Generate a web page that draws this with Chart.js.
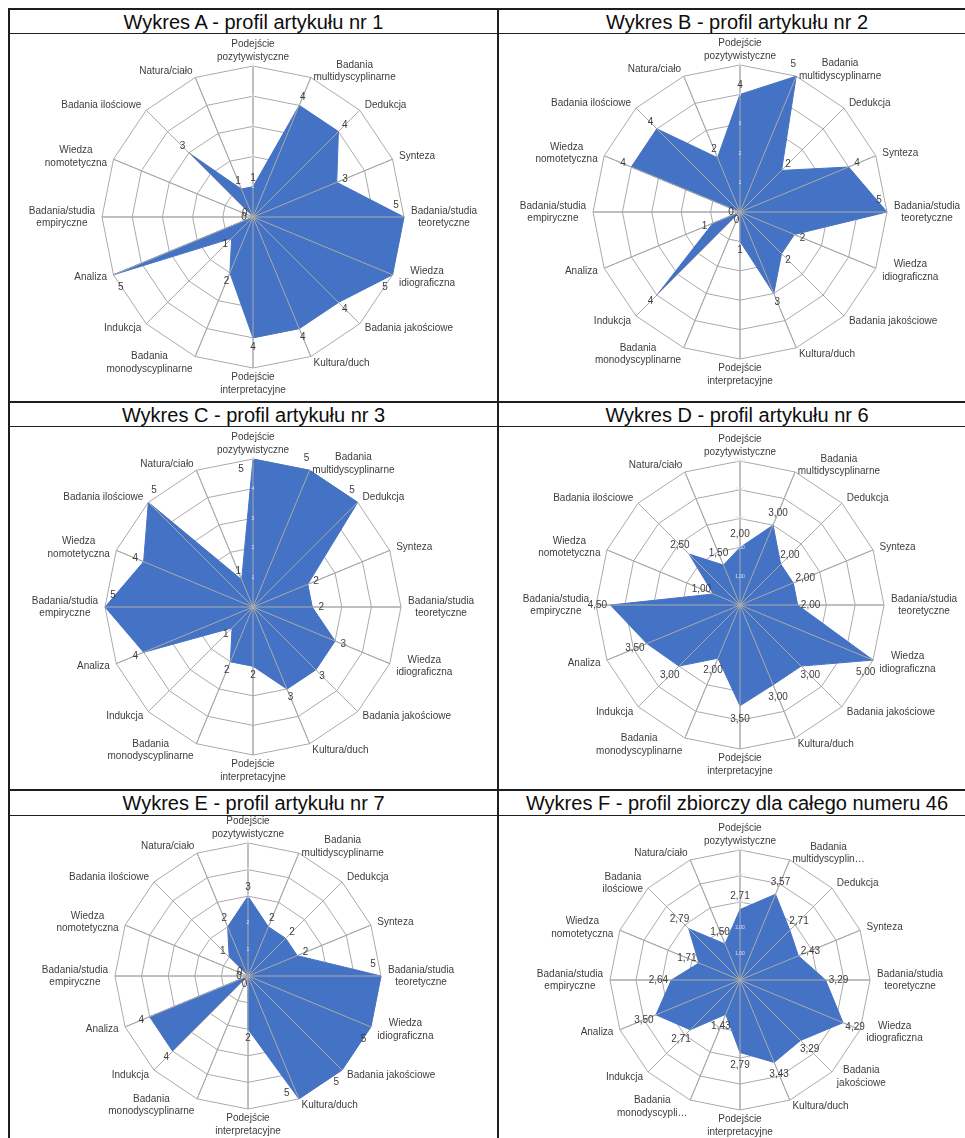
<!DOCTYPE html>
<html>
<head>
<meta charset="utf-8">
<script src="https://cdn.jsdelivr.net/npm/chart.js@4.4.1/dist/chart.umd.min.js"></script>
<style>
  html, body { margin:0; padding:0; background:#fff; width:965px; height:1138px; overflow:hidden; position:relative; }
  .ln { position:absolute; background:#1e1e1e; }
  .title { position:absolute; text-align:center; font-family:"Liberation Sans", Arial, sans-serif; font-size:20px; color:#0d0d0d; white-space:nowrap; }
  canvas { position:absolute; }
</style>
</head>
<body>
<div id="root"></div>
<script>
// ---------- DATA ----------
const categories = [
  ["Podejście","pozytywistyczne"], ["Badania","multidyscyplinarne"], "Dedukcja", "Synteza",
  ["Badania/studia","teoretyczne"], ["Wiedza","idiograficzna"], "Badania jakościowe", "Kultura/duch",
  ["Podejście","interpretacyjne"], ["Badania","monodyscyplinarne"], "Indukcja", "Analiza",
  ["Badania/studia","empiryczne"], ["Wiedza","nomotetyczna"], "Badania ilościowe", "Natura/ciało"
];
const categoriesF = [
  ["Podejście","pozytywistyczne"], ["Badania","multidyscyplin…"], "Dedukcja", "Synteza",
  ["Badania/studia","teoretyczne"], ["Wiedza","idiograficzna"], ["Badania","jakościowe"], "Kultura/duch",
  ["Podejście","interpretacyjne"], ["Badania","monodyscypli…"], "Indukcja", "Analiza",
  ["Badania/studia","empiryczne"], ["Wiedza","nomotetyczna"], ["Badania","ilościowe"], "Natura/ciało"
];
const valuesA = [1, 4, 4, 3, 5, 5, 4, 4, 4, 2, 1, 5, 0, 0, 3, 1];
const valuesB = [4, 5, 2, 4, 5, 2, 2, 3, 1, 0, 4, 1, 0, 4, 4, 2];
const valuesC = [5, 5, 5, 2, 2, 3, 3, 3, 2, 2, 1, 4, 5, 4, 5, 1];
const valuesD = [2.00, 3.00, 2.00, 2.00, 2.00, 5.00, 3.00, 3.00, 3.50, 2.00, 3.00, 3.50, 4.50, 1.00, 2.50, 1.50];
const valuesE = [3, 2, 2, 2, 5, 5, 5, 5, 2, 0, 4, 4, 0, 0, 1, 2];
const valuesF = [2.71, 3.57, 2.71, 2.43, 3.29, 4.29, 3.29, 3.43, 2.79, 1.43, 2.71, 3.50, 2.64, 1.71, 2.79, 1.50];
const titles = [
  "Wykres A - profil artykułu nr 1",
  "Wykres B - profil artykułu nr 2",
  "Wykres C - profil artykułu nr 3",
  "Wykres D - profil artykułu nr 6",
  "Wykres E - profil artykułu nr 7",
  "Wykres F - profil zbiorczy dla całego numeru 46"
];
const scaleMin = 0;
const scaleMax = 5;
const scaleStep = 1;

// ---------- LAYOUT ----------
const root = document.getElementById('root');
function line(x, y, w, h) {
  const d = document.createElement('div');
  d.className = 'ln';
  d.style.cssText = `left:${x}px;top:${y}px;width:${w}px;height:${h}px;`;
  root.appendChild(d);
}
line(8, 8, 970, 2);      // top
line(8, 8, 2, 1140);     // left
line(497, 8, 2, 1140);   // column divider
line(975, 8, 2, 1140);   // right (off-screen)
line(8, 33, 970, 1);     // title rule row 1
line(8, 401, 970, 2);    // row divider
line(8, 426, 970, 1);    // title rule row 2
line(8, 789, 970, 2);    // row divider
line(8, 815, 970, 1);    // title rule row 3

const titleBoxes = [
  [10, 10, 487, 23], [499, 10, 476, 23],
  [10, 403, 487, 23], [499, 403, 476, 23],
  [10, 791, 487, 24], [499, 791, 476, 24]
];
titles.forEach((t, k) => {
  const [x, y, w, h] = titleBoxes[k];
  const d = document.createElement('div');
  d.className = 'title';
  d.style.cssText = `left:${x}px;top:${y}px;width:${w}px;height:${h}px;line-height:${h + 1}px;`;
  d.textContent = t;
  root.appendChild(d);
});

const charts = [
  { values: valuesA, labels: categories,  dec: 0, box: [10, 34, 487, 367],  cx: 243, cy: 183, R: 151 },
  { values: valuesB, labels: categories,  dec: 0, box: [499, 34, 476, 367], cx: 241, cy: 178, R: 147 },
  { values: valuesC, labels: categories,  dec: 0, box: [10, 427, 487, 362], cx: 243, cy: 180, R: 148 },
  { values: valuesD, labels: categories,  dec: 2, box: [499, 427, 476, 362], cx: 241, cy: 178, R: 144 },
  { values: valuesE, labels: categories,  dec: 0, box: [10, 816, 487, 322], cx: 238, cy: 160, R: 133 },
  { values: valuesF, labels: categoriesF, dec: 2, box: [499, 816, 476, 322], cx: 241, cy: 164, R: 130 }
];

const FONT = '"Liberation Sans", Arial, sans-serif';
const TEXT = '#3d3d3d';
const GRID = '#aaaaaa';
const FILL = '#4472C4';

function fmt(v, dec) {
  return dec ? v.toFixed(dec).replace('.', ',') : String(Math.round(v));
}

function makeDecor(cfg) {
  return {
    id: 'radarDecor',
    afterDatasetsDraw(chart) {
      const s = chart.scales.r;
      const ctx = chart.ctx;
      const n = chart.data.labels.length;
      ctx.save();
      // spokes over the filled area
      ctx.strokeStyle = GRID;
      ctx.lineWidth = 1;
      for (let i = 0; i < n; i++) {
        const p = s.getPointPosition(i, s.drawingArea);
        ctx.beginPath();
        ctx.moveTo(s.xCenter, s.yCenter);
        ctx.lineTo(p.x, p.y);
        ctx.stroke();
      }
      // category labels
      ctx.font = `10px ${FONT}`;
      ctx.fillStyle = TEXT;
      ctx.textBaseline = 'middle';
      ctx.textAlign = 'center';
      const lh = 12.5;
      for (let i = 0; i < n; i++) {
        const lab = chart.data.labels[i];
        const lines = Array.isArray(lab) ? lab : [lab];
        const a = s.getIndexAngle(i);
        const sn = Math.sin(a), cs = Math.cos(a);
        const bw = Math.max(...lines.map(t => ctx.measureText(t).width));
        const bh = lines.length * lh;
        let left, top;
        if (Math.abs(sn) < 0.05) {
          const p = s.getPointPosition(i, s.drawingArea + 3);
          left = p.x - bw / 2;
          top = cs > 0 ? p.y - bh : p.y;
        } else {
          const p = s.getPointPosition(i, s.drawingArea + 7);
          left = sn > 0 ? p.x : p.x - bw;
          top = p.y - bh / 2;
        }
        lines.forEach((t, k) => ctx.fillText(t, left + bw / 2, top + lh * (k + 0.5)));
      }
      // value labels
      const vals = chart.data.datasets[0].data;
      ctx.textAlign = 'center';
      ctx.textBaseline = 'middle';
      for (let i = 0; i < n; i++) {
        const v = vals[i];
        const a = s.getIndexAngle(i);
        const sn = Math.sin(a), cs = Math.cos(a);
        const d = s.getDistanceFromCenterForValue(v);
        let x, y;
        if (v >= scaleMax - 0.25) {
          const p = s.getPointPosition(i, d);
          if ((cs > 0 && Math.abs(sn) < 0.2) || (cs < 0 && Math.abs(sn) < 0.45)) {
            x = p.x + (sn >= 0 ? -12 : 12);
            y = p.y + (cs > 0 ? 10 : -6);
          } else {
            x = p.x - sn * 8;
            y = p.y + (cs >= -0.2 ? -12 : 12);
          }
        } else {
          const p = s.getPointPosition(i, d + (cfg.dec ? 13 : 9));
          x = p.x; y = p.y;
        }
        ctx.fillText(fmt(v, cfg.dec), x, y);
      }
      ctx.restore();
    }
  };
}

charts.forEach(cfg => {
  const [x, y, w, h] = cfg.box;
  const cv = document.createElement('canvas');
  cv.width = w; cv.height = h;
  cv.style.left = x + 'px'; cv.style.top = y + 'px';
  cv.style.width = w + 'px'; cv.style.height = h + 'px';
  root.appendChild(cv);
  const R = cfg.R;
  const pl = cfg.cx - R - 2, pt = cfg.cy - R - 2;
  const pr = w - pl - 2 * R - 5, pb = h - pt - 2 * R - 5;
  new Chart(cv, {
    type: 'radar',
    data: {
      labels: cfg.labels,
      datasets: [{
        data: cfg.values,
        backgroundColor: FILL,
        borderColor: FILL,
        borderWidth: 1,
        pointRadius: 0,
        fill: true
      }]
    },
    options: {
      responsive: false,
      animation: false,
      devicePixelRatio: 1,
      layout: { padding: { left: pl, right: pr, top: pt, bottom: pb } },
      plugins: { legend: { display: false }, tooltip: { enabled: false }, title: { display: false } },
      scales: {
        r: {
          min: scaleMin,
          max: scaleMax,
          ticks: {
            stepSize: scaleStep,
            display: true,
            z: 1,
            font: { size: 5, family: FONT },
            color: '#dbe3f3',
            showLabelBackdrop: false,
            backdropPadding: 0,
            callback: v => fmt(v, cfg.dec)
          },
          grid: { color: GRID, lineWidth: 1 },
          angleLines: { display: true, color: GRID, lineWidth: 1 },
          pointLabels: { display: false }
        }
      }
    },
    plugins: [makeDecor(cfg)]
  });
});
</script>
</body>
</html>
